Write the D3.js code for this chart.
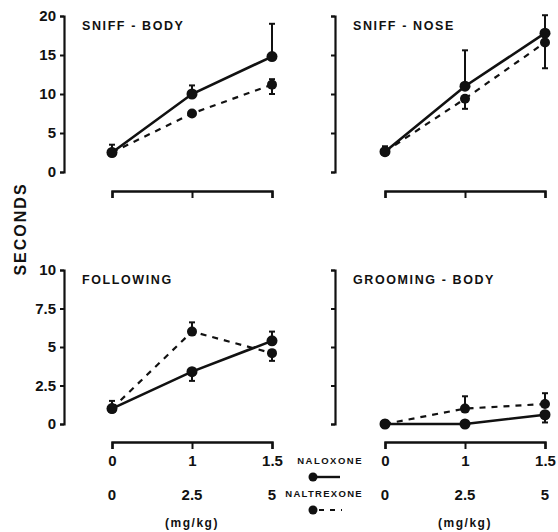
<!DOCTYPE html>
<html><head><meta charset="utf-8">
<script src="https://cdn.jsdelivr.net/npm/d3@7"></script>
<style>body{margin:0;background:#fff}svg{display:block}text{font-family:"Liberation Sans",Arial,sans-serif;fill:#111}</style>
</head><body>
<svg id="c" width="558" height="532"></svg>
<script>
const doses = ["0", "1", "1.5"];
const naltrexoneLabels = ["0", "2.5", "5"];
const panelTitles = ["SNIFF - BODY", "SNIFF - NOSE", "FOLLOWING", "GROOMING - BODY"];
const topTicks = [0, 5, 10, 15, 20];
const bottomTicks = [0, 2.5, 5, 7.5, 10];
// means (seconds)
const naloxoneMeans = [[2.5, 10, 14.8], [2.6, 11.0, 17.8], [1.0, 3.4, 5.4], [0, 0, 0.6]];
const naltrexoneMeans = [[2.5, 7.5, 11.2], [2.6, 9.4, 16.6], [1.0, 6.0, 4.6], [0, 1.0, 1.3]];
// error bar extents above / below mean
const naloxoneErrUp = [[1.0, 1.1, 4.2], [0.7, 4.6, 2.3], [0.5, 0, 0.6], [0, 0, 0]];
const naloxoneErrDown = [[0, 0, 0], [0, 0, 0], [0, 0.6, 0], [0, 0, 0.5]];
const naltrexoneErrUp = [[0, 0, 0.7], [0, 0, 0], [0, 0.6, 0], [0, 0.8, 0.7]];
const naltrexoneErrDown = [[0, 0.3, 1.2], [0, 1.3, 3.3], [0, 0, 0.5], [0, 0, 0]];

const svg = d3.select("#c");
const ink = "#111";
const layout = [
  {yx: 64, x0: 112, y0: 172, y1: 16, xa: 191, max: 20, ticks: topTicks, labels: true, xlabels: false},
  {yx: 335, x0: 385, y0: 172, y1: 16, xa: 191, max: 20, ticks: topTicks, labels: false, xlabels: false},
  {yx: 64, x0: 112, y0: 424, y1: 270, xa: 442, max: 10, ticks: bottomTicks, labels: true, xlabels: true},
  {yx: 335, x0: 385, y0: 424, y1: 270, xa: 442, max: 10, ticks: bottomTicks, labels: false, xlabels: true}
];

layout.forEach((L, i) => {
  const g = svg.append("g");
  const x = d3.scalePoint().domain(doses).range([L.x0, L.x0 + 160]);
  const y = d3.scaleLinear().domain([0, L.max]).range([L.y0, L.y1]);
  // y axis
  const ya = d3.axisLeft(y).tickValues(L.ticks).tickSize(4).tickSizeOuter(4)
    .tickFormat(L.labels ? (d => String(d)) : () => "");
  const yg = g.append("g").attr("transform", `translate(${L.yx},0)`).call(ya);
  yg.select(".domain").attr("stroke", ink).attr("stroke-width", 2.2);
  yg.selectAll(".tick line").attr("stroke", ink).attr("stroke-width", 2);
  yg.selectAll(".tick text").attr("font-size", 15).attr("font-weight", "bold").attr("dx", "-1").attr("fill", ink);
  // x axis
  const xa = d3.axisBottom(x).tickSize(7).tickSizeOuter(7)
    .tickFormat(L.xlabels ? (d => d) : () => "");
  const xg = g.append("g").attr("transform", `translate(0,${L.xa})`).call(xa);
  xg.select(".domain").attr("stroke", ink).attr("stroke-width", 2.4);
  xg.selectAll(".tick line").attr("stroke", ink).attr("stroke-width", 2);
  xg.selectAll(".tick text").attr("font-size", 15).attr("font-weight", "bold").attr("dy", "0.9em").attr("fill", ink);
  if (L.xlabels) {
    g.selectAll(".nt").data(doses).join("text")
      .attr("x", d => x(d)).attr("y", 500).attr("text-anchor", "middle")
      .attr("font-size", 15).attr("font-weight", "bold").text((d, k) => naltrexoneLabels[k]);
    g.append("text").attr("x", x("1")).attr("y", 527).attr("text-anchor", "middle")
      .attr("font-size", 12).attr("font-weight", "bold").attr("letter-spacing", 1.5).text("(mg/kg)");
  }
  // title
  g.append("text").attr("x", L.yx + 18).attr("y", L.y1 + 14).attr("font-size", 12.5)
    .attr("font-weight", "900").attr("letter-spacing", 1.6).text(panelTitles[i]);

  const line = d3.line().x((d, k) => x(doses[k])).y(d => y(d));
  g.append("path").attr("d", line(naltrexoneMeans[i])).attr("fill", "none")
    .attr("stroke", ink).attr("stroke-width", 2.2).attr("stroke-dasharray", "6,6");
  g.append("path").attr("d", line(naloxoneMeans[i])).attr("fill", "none")
    .attr("stroke", ink).attr("stroke-width", 2.6);
  const series = [
    [naloxoneMeans[i], naloxoneErrUp[i], naloxoneErrDown[i], 5.5],
    [naltrexoneMeans[i], naltrexoneErrUp[i], naltrexoneErrDown[i], 5]
  ];
  series.forEach(([m, up, dn, r]) => {
    doses.forEach((d, k) => {
      const cx = x(d);
      if (up[k] > 0) {
        g.append("line").attr("x1", cx).attr("x2", cx).attr("y1", y(m[k])).attr("y2", y(m[k] + up[k])).attr("stroke", ink).attr("stroke-width", 2);
        g.append("line").attr("x1", cx - 3).attr("x2", cx + 3).attr("y1", y(m[k] + up[k])).attr("y2", y(m[k] + up[k])).attr("stroke", ink).attr("stroke-width", 2);
      }
      if (dn[k] > 0) {
        g.append("line").attr("x1", cx).attr("x2", cx).attr("y1", y(m[k])).attr("y2", y(m[k] - dn[k])).attr("stroke", ink).attr("stroke-width", 2);
        g.append("line").attr("x1", cx - 3).attr("x2", cx + 3).attr("y1", y(m[k] - dn[k])).attr("y2", y(m[k] - dn[k])).attr("stroke", ink).attr("stroke-width", 2);
      }
      g.append("circle").attr("cx", cx).attr("cy", y(m[k])).attr("r", r).attr("fill", ink);
    });
  });
});

// y axis title
svg.append("text").attr("transform", "translate(26,229) rotate(-90)").attr("text-anchor", "middle")
  .attr("font-size", 16).attr("font-weight", "900").attr("letter-spacing", 2).text("SECONDS");

// legend
const leg = svg.append("g");
leg.append("text").attr("x", 363).attr("y", 464).attr("text-anchor", "end").attr("font-size", 9.5)
  .attr("font-weight", "900").attr("letter-spacing", 1.5).text("NALOXONE");
leg.append("circle").attr("cx", 313).attr("cy", 477).attr("r", 4.5).attr("fill", ink);
leg.append("line").attr("x1", 313).attr("x2", 340).attr("y1", 477).attr("y2", 477).attr("stroke", ink).attr("stroke-width", 2.4);
leg.append("text").attr("x", 363).attr("y", 497).attr("text-anchor", "end").attr("font-size", 9.5)
  .attr("font-weight", "900").attr("letter-spacing", 1.3).text("NALTREXONE");
leg.append("circle").attr("cx", 313).attr("cy", 510).attr("r", 4.5).attr("fill", ink);
leg.append("line").attr("x1", 319).attr("x2", 342).attr("y1", 510).attr("y2", 510).attr("stroke", ink).attr("stroke-width", 2.2).attr("stroke-dasharray", "5,6");
</script>
</body></html>
